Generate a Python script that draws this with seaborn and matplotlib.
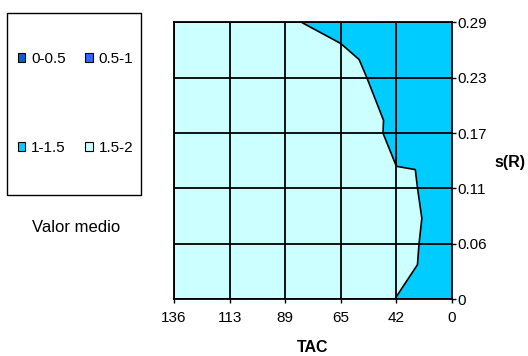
import numpy as np
import matplotlib
matplotlib.use('Agg')
import matplotlib.pyplot as plt
import matplotlib.tri as mtri
from matplotlib.patches import Patch, Rectangle
import seaborn as sns

# Category axes
tac = ['136', '113', '89', '65', '42', '0']
sr = ['0', '0.06', '0.11', '0.17', '0.23', '0.29']

# Valor medio for each s(R) row, across TAC 136 -> 0
z_s000 = [1.92, 1.88, 1.80, 1.584, 1.497, 1.392]
z_s006 = [1.95, 1.90, 1.85, 1.75, 1.566, 1.404]
z_s011 = [1.96, 1.92, 1.86, 1.78, 1.548, 1.422]
z_s017 = [1.95, 1.91, 1.84, 1.727, 1.428, 1.407]
z_s023 = [1.93, 1.88, 1.82, 1.74, 1.229, 1.30]
z_s029 = [1.88, 1.80, 1.563, 1.353, 1.013, 1.05]

range_labels = ['0-0.5', '0.5-1', '1-1.5', '1.5-2']
range_bounds = [0, 0.5, 1, 1.5, 2]
range_colors = ['#0066CC', '#3366FF', '#00CCFF', '#CCFFFF']

sns.set_theme(style='white')
plt.rcParams['font.family'] = ['Liberation Sans', 'DejaVu Sans']
plt.rcParams['text.color'] = 'black'

Z = np.array([z_s000, z_s006, z_s011, z_s017, z_s023, z_s029])
nx, ny = len(tac), len(sr)
X, Y = np.meshgrid(np.arange(nx), np.arange(ny))
x, y, z = X.ravel(), Y.ravel(), Z.ravel()
tris = []
for j in range(ny - 1):
    for i in range(nx - 1):
        a = j * nx + i
        b, c = a + 1, a + nx
        d = c + 1
        if z[a] + z[d] >= z[b] + z[c]:
            tris += [[a, b, d], [a, d, c]]
        else:
            tris += [[a, b, c], [b, d, c]]
tri = mtri.Triangulation(x, y, tris)

fig = plt.figure(figsize=(5.28, 3.56), dpi=100)
ax = fig.add_axes([0.3295, 0.160, 0.5265, 0.7768])
ax.tricontourf(tri, z, levels=range_bounds, colors=range_colors, antialiased=False)
ax.tricontour(tri, z, levels=[0.5, 1, 1.5], colors='black', linewidths=1.2)

ax.set_xlim(0, nx - 1)
ax.set_ylim(0, ny - 1)
ax.set_xticks(range(nx))
ax.set_xticklabels(tac)
ax.set_yticks(range(ny))
ax.set_yticklabels(sr)
ax.yaxis.tick_right()
ax.grid(True, color='black', linewidth=1.3)
ax.set_axisbelow(False)
for s in ax.spines.values():
    s.set_visible(True)
    s.set_color('black')
    s.set_linewidth(1.3)
ax.tick_params(axis='x', bottom=True, top=False, direction='out', length=3, width=1,
               pad=5.5, labelsize=11, color='black', labelcolor='black')
ax.tick_params(axis='y', right=True, left=False, direction='out', length=3, width=1,
               pad=1, labelsize=11, color='black', labelcolor='black')

fig.text(313 / 528, 1 - 348 / 356, 'TAC', ha='center', va='center',
         fontsize=11.5, fontweight='bold')
fig.text(510 / 528, 1 - 163 / 356, 's(R)', ha='center', va='center',
         fontsize=11.5, fontweight='bold')
fig.text(76 / 528, 1 - 228 / 356, 'Valor medio', ha='center', va='center', fontsize=12)

fig.patches.append(Rectangle((7 / 528, 1 - 195 / 356), 134 / 528, 182 / 356,
                             transform=fig.transFigure, fill=False,
                             edgecolor='black', linewidth=1))
handles = [Patch(facecolor=c, edgecolor='black', linewidth=0.8) for c in range_colors]
order = [0, 2, 1, 3]
fig.legend([handles[k] for k in order], [range_labels[k] for k in order],
           loc='upper left', bbox_to_anchor=(17.5 / 528, 1 - 52 / 356), ncol=2,
           frameon=False, handlelength=0.52, handleheight=0.52, handletextpad=0.37,
           columnspacing=1.25, labelspacing=4.9, borderpad=0, borderaxespad=0,
           fontsize=11)

fig.savefig('out.png', dpi=100)
